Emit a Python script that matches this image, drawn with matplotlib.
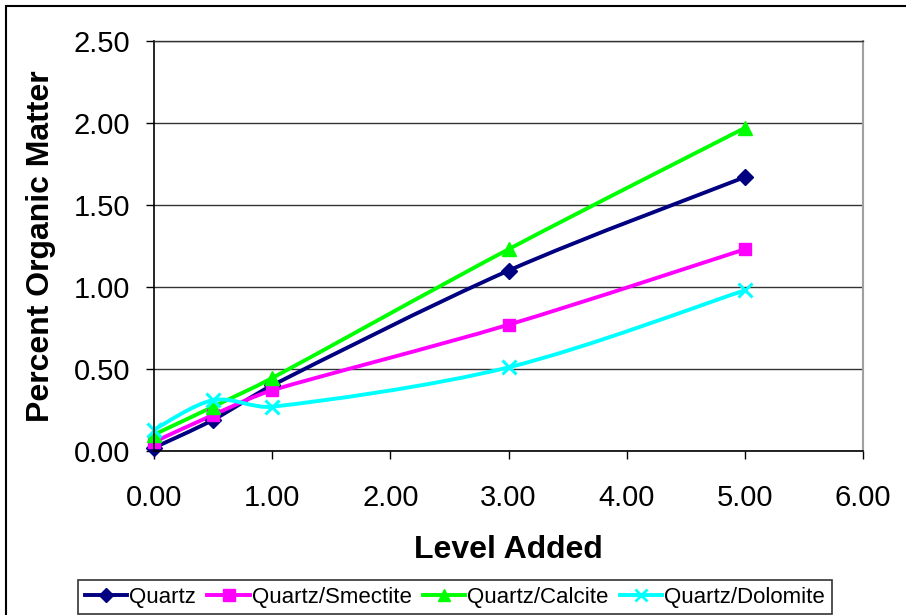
import numpy as np
import matplotlib
matplotlib.use('Agg')
import matplotlib.pyplot as plt
from matplotlib.path import Path
from matplotlib.patches import PathPatch, Rectangle
from matplotlib.lines import Line2D

plt.rcParams['font.family'] = ['Liberation Sans', 'DejaVu Sans']

# data
level = [0.0, 0.5, 1.0, 3.0, 5.0]
quartz = [0.02, 0.19, 0.40, 1.10, 1.67]
smectite = [0.055, 0.22, 0.37, 0.77, 1.23]
calcite = [0.10, 0.27, 0.445, 1.23, 1.97]
dolomite = [0.13, 0.31, 0.27, 0.51, 0.98]

names = ['Quartz', 'Quartz/Smectite', 'Quartz/Calcite', 'Quartz/Dolomite']
series = [quartz, smectite, calcite, dolomite]
colors = ['#000080', '#ff00ff', '#00ff00', '#00ffff']
markers = ['D', 's', '^', 'x']
msizes = [8, 9, 10, 10]

x_ticks = [0, 1, 2, 3, 4, 5, 6]
y_ticks = [0, 0.5, 1.0, 1.5, 2.0, 2.5]

# pixels per data unit, used so the smoothing behaves like it does on screen
SX, SY = 118.2, 164.0


def smooth_path(xs, ys):
    # Excel-like smoothed line: bezier segments, catmull-rom tangents,
    # control arms limited to a third of the segment length
    pts = np.column_stack([np.array(xs) * SX, np.array(ys) * SY])
    n = len(pts)

    def arm(a, b, seg):
        v = (b - a) / 6.0
        lim = np.hypot(*seg) / 3.0
        ln = np.hypot(*v)
        if ln > lim and ln > 0:
            v = v * lim / ln
        return v

    verts = [pts[0]]
    codes = [Path.MOVETO]
    for i in range(n - 1):
        p0 = pts[i - 1] if i > 0 else pts[i]
        p1 = pts[i]
        p2 = pts[i + 1]
        p3 = pts[i + 2] if i + 2 < n else pts[i + 1]
        c1 = p1 + arm(p0, p2, p2 - p1)
        c2 = p2 - arm(p1, p3, p2 - p1)
        verts += [c1, c2, p2]
        codes += [Path.CURVE4] * 3
    verts = np.array(verts) / np.array([SX, SY])
    return Path(verts, codes)


fig = plt.figure(figsize=(9.06, 6.15), dpi=100)
ax = fig.add_axes([154 / 906, 1 - 451 / 615, (863 - 154) / 906, (451 - 41) / 615])

for vals, c, m, ms in zip(series, colors, markers, msizes):
    patch = PathPatch(smooth_path(level, vals), facecolor='none', edgecolor=c,
                      lw=2.8, capstyle='round', joinstyle='round', clip_on=False)
    ax.add_patch(patch)
    ax.plot(level, vals, ls='none', marker=m, color=c, ms=ms, mew=2.2 if m == 'x' else 1,
            clip_on=False)

ax.set_xlim(0, 6)
ax.set_ylim(0, 2.5)
ax.set_xticks(x_ticks)
ax.set_yticks(y_ticks)
ax.set_xticklabels(['%.2f' % v for v in x_ticks])
ax.set_yticklabels(['%.2f' % v for v in y_ticks])
ax.tick_params(axis='both', labelsize=21, direction='out', length=6, width=1, color='black')
ax.tick_params(axis='y', pad=11)
ax.tick_params(axis='x', pad=18)
ax.yaxis.grid(True, color='#333333', lw=1)
ax.set_axisbelow(True)
for s in ['left', 'bottom']:
    ax.spines[s].set_color('black')
    ax.spines[s].set_linewidth(1.2)
ax.spines['top'].set_color('#333333')
ax.spines['top'].set_linewidth(1)
ax.spines['right'].set_color('#a0a0a0')
ax.spines['right'].set_linewidth(1.5)

ax.set_xlabel('Level Added', fontsize=23, fontweight='bold', labelpad=16)
ax.set_ylabel('Percent Organic Matter', fontsize=23, fontweight='bold', labelpad=13)

handles = [Line2D([], [], color=c, marker=m, ms=ms * 0.9, lw=2.8, mew=2 if m == 'x' else 1)
           for c, m, ms in zip(colors, markers, msizes)]
leg = fig.legend(handles, names, loc='center', bbox_to_anchor=(455 / 906, 1 - 597 / 615),
                 ncol=4, fontsize=16, frameon=True, fancybox=False, edgecolor='black',
                 handlelength=1.9, handletextpad=0.1, columnspacing=0.5,
                 borderpad=0.3, borderaxespad=0)
leg.get_frame().set_linewidth(1.2)

# outer chart border (right and bottom edges fall outside the picture)
fig.patches.append(Rectangle((6 / 906, -0.2), 1.2, 1.2 - 6 / 615, transform=fig.transFigure,
                             fill=False, edgecolor='black', lw=1.5, clip_on=False))

fig.savefig('out.png', dpi=100)
